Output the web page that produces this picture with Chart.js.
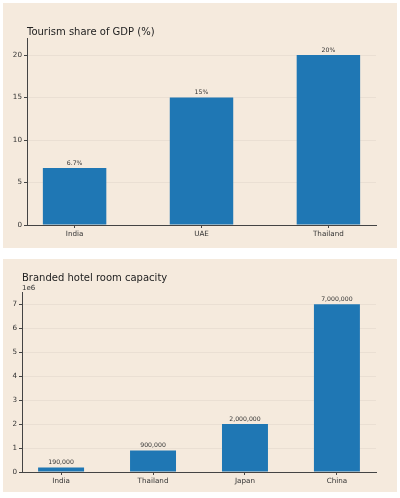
<!DOCTYPE html>
<html>
<head>
<meta charset="utf-8">
<script src="https://cdn.jsdelivr.net/npm/chart.js@4"></script>
<style>
  html, body { margin: 0; padding: 0; background: #ffffff; }
  body { width: 400px; height: 498px; position: relative; overflow: hidden; }
  .panel { position: absolute; left: 3px; width: 394px; background: #f5eadd; }
  #p1 { top: 3px; height: 245px; }
  #p2 { top: 259px; height: 233px; }
</style>
</head>
<body>
<div class="panel" id="p1"><canvas id="gdpChart"></canvas></div>
<div class="panel" id="p2"><canvas id="roomChart"></canvas></div>
<script>
const GDP_COUNTRIES = ['India', 'UAE', 'Thailand'];
const GDP_SHARE = [6.7, 15, 20];
const GDP_LABELS = ['6.7%', '15%', '20%'];
const GDP_TICKS = [0, 5, 10, 15, 20];

const ROOM_COUNTRIES = ['India', 'Thailand', 'Japan', 'China'];
const ROOM_CAPACITY = [190000, 900000, 2000000, 7000000];
const ROOM_LABELS = ['190,000', '900,000', '2,000,000', '7,000,000'];
const ROOM_TICKS = [0, 1e6, 2e6, 3e6, 4e6, 5e6, 6e6, 7e6];

const FONT = "'DejaVu Sans', sans-serif";
const INK = '#333333';
const SPINE = '#444444';
const BAR = '#1f77b4';

// writes the value text just over each bar
const barLabels = {
    id: 'barLabels',
    afterDatasetsDraw(chart, args, opts) {
        const ctx = chart.ctx;
        const meta = chart.getDatasetMeta(0);
        ctx.save();
        ctx.font = '6.2px ' + FONT;
        ctx.fillStyle = INK;
        ctx.textAlign = 'center';
        ctx.textBaseline = 'bottom';
        meta.data.forEach((bar, i) => {
            ctx.fillText(opts.texts[i], bar.x, bar.y - 2);
        });
        ctx.restore();
    }
};

function makeConfig(names, values, texts, yTicks, opt) {
    return {
        type: 'bar',
        data: {
            datasets: [{
                data: values.map((v, i) => ({x: i, y: v})),
                backgroundColor: BAR,
                borderWidth: 0,
                categoryPercentage: 1,
                barPercentage: 0.5
            }]
        },
        plugins: [barLabels],
        options: {
            responsive: true,
            maintainAspectRatio: false,
            animation: false,
            layout: {padding: {left: 0, right: 21, top: 0, bottom: 0}},
            plugins: {
                legend: {display: false},
                tooltip: {enabled: false},
                title: {
                    display: true,
                    text: opt.title,
                    align: 'start',
                    fullSize: false,
                    color: '#222222',
                    font: {family: FONT, size: 10, weight: 'normal'},
                    padding: opt.titlePad
                },
                subtitle: {
                    display: !!opt.sub,
                    text: opt.sub || '',
                    align: 'start',
                    fullSize: false,
                    color: INK,
                    font: {family: FONT, size: 7},
                    padding: {top: 0, bottom: 0}
                },
                barLabels: {texts: texts}
            },
            scales: {
                x: {
                    type: 'linear',
                    min: -0.25 - 0.05 * (names.length - 0.5),
                    max: names.length - 0.75 + 0.05 * (names.length - 0.5),
                    offset: false,
                    afterBuildTicks: (scale) => {
                        scale.ticks = names.map((n, i) => ({value: i}));
                    },
                    afterFit: (scale) => { scale.height = opt.xHeight; },
                    grid: {drawOnChartArea: false, offset: false, tickLength: 3, tickColor: SPINE},
                    border: {display: true, color: SPINE, width: 1},
                    ticks: {
                        color: INK,
                        font: {family: FONT, size: 7.2},
                        padding: 2,
                        maxRotation: 0,
                        callback: (v) => names[v]
                    }
                },
                y: {
                    min: 0,
                    max: opt.yMax,
                    afterBuildTicks: (scale) => {
                        scale.ticks = yTicks.map((v) => ({value: v}));
                    },
                    afterFit: (scale) => { scale.width = opt.yWidth; },
                    grid: {color: 'rgba(0,0,0,0.045)', tickLength: 3, tickColor: SPINE},
                    border: {display: true, color: SPINE, width: 1},
                    ticks: {
                        color: INK,
                        font: {family: FONT, size: 7.2},
                        padding: 2,
                        callback: opt.tick
                    }
                }
            }
        }
    };
}

new Chart(document.getElementById('gdpChart'), makeConfig(GDP_COUNTRIES, GDP_SHARE, GDP_LABELS, GDP_TICKS, {
    title: 'Tourism share of GDP (%)',
    titlePad: {top: 23, bottom: 0},
    yMax: 22,
    yWidth: 24,
    xHeight: 23,
    tick: (v) => v
}));

new Chart(document.getElementById('roomChart'), makeConfig(ROOM_COUNTRIES, ROOM_CAPACITY, ROOM_LABELS, ROOM_TICKS, {
    title: 'Branded hotel room capacity',
    titlePad: {top: 13, bottom: 0},
    sub: '1e6',
    yMax: 7500000,
    yWidth: 19,
    xHeight: 20,
    tick: (v) => v / 1000000
}));
</script>
</body>
</html>
